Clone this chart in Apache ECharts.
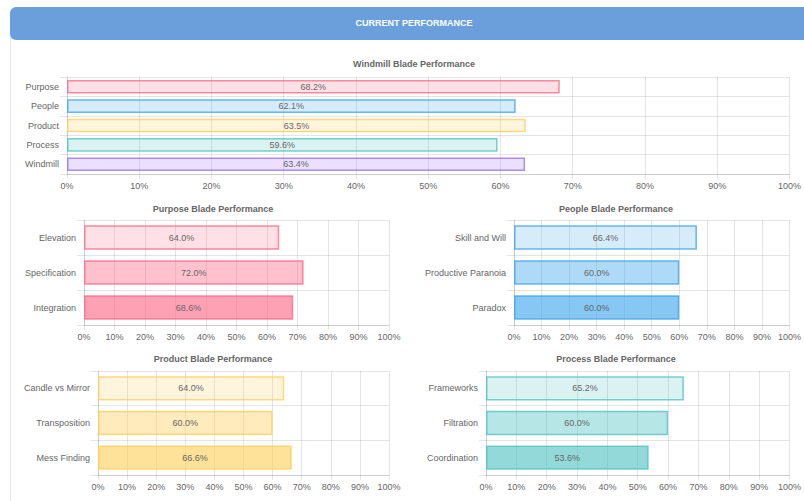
<!DOCTYPE html>
<html>
<head>
<meta charset="utf-8">
<script src="https://cdn.jsdelivr.net/npm/echarts@6/dist/echarts.min.js"></script>
<style>
html,body{margin:0;padding:0;background:#fff;}
#c{width:804px;height:501px;}
</style>
</head>
<body>
<div id="c"></div>
<script>
// ---- data ----
const headerText = 'CURRENT PERFORMANCE';
const xTicks = [0, 10, 20, 30, 40, 50, 60, 70, 80, 90, 100];

const windmillTitle = 'Windmill Blade Performance';
const windmillCats = ['Purpose', 'People', 'Product', 'Process', 'Windmill'];
const windmillVals = [68.2, 62.1, 63.5, 59.6, 63.4];

const purposeTitle = 'Purpose Blade Performance';
const purposeCats = ['Elevation', 'Specification', 'Integration'];
const purposeVals = [64.0, 72.0, 68.6];

const peopleTitle = 'People Blade Performance';
const peopleCats = ['Skill and Will', 'Productive Paranoia', 'Paradox'];
const peopleVals = [66.4, 60.0, 60.0];

const productTitle = 'Product Blade Performance';
const productCats = ['Candle vs Mirror', 'Transposition', 'Mess Finding'];
const productVals = [64.0, 60.0, 66.6];

const processTitle = 'Process Blade Performance';
const processCats = ['Frameworks', 'Filtration', 'Coordination'];
const processVals = [65.2, 60.0, 53.6];

// ---- styling ----
const FONT = "'Helvetica Neue', Helvetica, Arial, sans-serif";
const GRIDC = 'rgba(0,0,0,0.1)';
const TXT = '#666';

const rgb = {
  pink: [255, 99, 132],
  blue: [54, 162, 235],
  yellow: [255, 206, 86],
  teal: [75, 192, 192],
  purple: [153, 102, 255]
};
function rgba(c, a) { return 'rgba(' + c[0] + ',' + c[1] + ',' + c[2] + ',' + a + ')'; }

const windmillColors = [rgb.pink, rgb.blue, rgb.yellow, rgb.teal, rgb.purple];
const alphas = [0.2, 0.4, 0.6];

const panels = [
  { title: windmillTitle, cats: windmillCats, vals: windmillVals, left: 67, width: 726, top: 77, height: 97, tx: 414, ty: 64,
    colorFn: (i) => windmillColors[i], alphaFn: () => 0.2 },
  { title: purposeTitle, cats: purposeCats, vals: purposeVals, left: 84, width: 305, top: 220, height: 105, tx: 213, ty: 209,
    colorFn: () => rgb.pink, alphaFn: (i) => alphas[i] },
  { title: peopleTitle, cats: peopleCats, vals: peopleVals, left: 514, width: 279, top: 220, height: 105, tx: 616, ty: 209,
    colorFn: () => rgb.blue, alphaFn: (i) => alphas[i] },
  { title: productTitle, cats: productCats, vals: productVals, left: 98, width: 291, top: 371, height: 104, tx: 213, ty: 359,
    colorFn: () => rgb.yellow, alphaFn: (i) => alphas[i] },
  { title: processTitle, cats: processCats, vals: processVals, left: 486, width: 307, top: 371, height: 104, tx: 616, ty: 359,
    colorFn: () => rgb.teal, alphaFn: (i) => alphas[i] }
];

const grid = [], xAxis = [], yAxis = [], series = [], graphic = [];

// card + header
graphic.push({
  type: 'rect', shape: { x: 10.5, y: 30.5, width: 820, height: 500, r: 6 },
  style: { fill: '#fff', stroke: '#e6e6e6', lineWidth: 1 }, z: -10
});
graphic.push({
  type: 'rect', shape: { x: 10, y: 7, width: 820, height: 33, r: 6 },
  style: { fill: '#6a9fdc' }, z: -5
});
graphic.push({
  type: 'text', x: 414, y: 23,
  style: { text: headerText, fill: '#fff', font: 'bold 9px ' + FONT, textAlign: 'center', textVerticalAlign: 'middle' }
});

panels.forEach((p, k) => {
  grid.push({ left: p.left, top: p.top, width: p.width, height: p.height, containLabel: false });
  graphic.push({
    type: 'text', x: p.tx, y: p.ty,
    style: { text: p.title, fill: TXT, font: 'bold 9px ' + FONT, textAlign: 'center', textVerticalAlign: 'middle' }
  });
  xAxis.push({
    type: 'value', gridIndex: k, min: xTicks[0], max: xTicks[xTicks.length - 1], interval: xTicks[1] - xTicks[0],
    axisLine: { show: true, lineStyle: { color: GRIDC, width: 1 } },
    axisTick: { show: true, length: 5, lineStyle: { color: GRIDC } },
    splitLine: { show: true, lineStyle: { color: GRIDC, width: 1 } },
    axisLabel: { color: TXT, fontSize: 9, fontFamily: FONT, margin: 7, formatter: (v) => v + '%', showMaxLabel: true, showMinLabel: true }
  });
  yAxis.push({
    type: 'category', gridIndex: k, data: p.cats, inverse: true,
    axisLine: { show: true, lineStyle: { color: GRIDC, width: 1 } },
    axisTick: { show: true, length: 7, lineStyle: { color: GRIDC } },
    splitLine: { show: true, lineStyle: { color: GRIDC, width: 1 } },
    axisLabel: { color: TXT, fontSize: 9, fontFamily: FONT, margin: 8 }
  });
  series.push({
    type: 'bar', xAxisIndex: k, yAxisIndex: k,
    barCategoryGap: k === 0 ? '30%' : '30%',
    data: p.vals.map((v, i) => ({
      value: v,
      itemStyle: {
        color: rgba(p.colorFn(i), p.alphaFn(i)),
        borderColor: rgba(p.colorFn(i), 0.75),
        borderWidth: 1.5
      }
    })),
    label: {
      show: true, position: 'inside', color: TXT, fontSize: 9, fontFamily: FONT,
      formatter: (d) => d.value.toFixed(1) + '%'
    },
    silent: true,
    animation: false
  });
});

const chart = echarts.init(document.getElementById('c'), null, { renderer: 'svg', width: 804, height: 501 });
chart.setOption({
  animation: false,
  backgroundColor: '#fff',
  grid, xAxis, yAxis, series, graphic
});
</script>
</body>
</html>
